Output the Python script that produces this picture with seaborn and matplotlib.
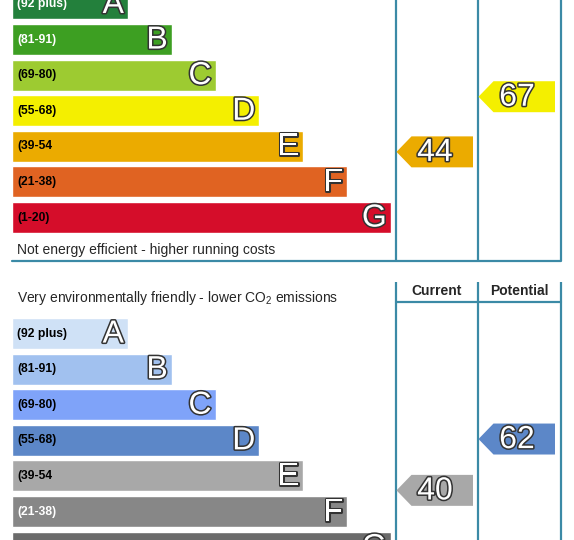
import numpy as np
import pandas as pd
import matplotlib
matplotlib.use("Agg")
import matplotlib.pyplot as plt
import matplotlib.patheffects as pe
from matplotlib.patches import Polygon
import seaborn as sns

# rating bands
letters = ["A", "B", "C", "D", "E", "F", "G"]
ranges = ["(92 plus)", "(81-91)", "(69-80)", "(55-68)", "(39-54", "(21-38)", "(1-20)"]
band_edges = [0.5, 20.5, 38.5, 54.5, 68.5, 80.5, 91.5, 100.5]

# energy efficiency chart
energy_colors = ["#23803c", "#3d9f22", "#9dcb31", "#f4ef00", "#ebab00", "#e06322", "#d50d2a"]
energy_label_colors = ["white", "white", "black", "black", "black", "black", "black"]
energy_current = 44
energy_potential = 67

# environmental impact chart
co2_colors = ["#cfe1f6", "#a1c1ef", "#7fa3f9", "#5c87c8", "#a8a8a8", "#878787", "#6b6b6b"]
co2_label_colors = ["black", "black", "black", "black", "black", "white", "white"]
co2_current = 40
co2_potential = 62

sns.set_style("white")
plt.rcParams["font.family"] = ["Liberation Sans", "DejaVu Sans"]
plt.rcParams["mathtext.fontset"] = "custom"
plt.rcParams["mathtext.rm"] = "Liberation Sans"

line_col = "#3b8aa6"
pitch = 35.6          # px per band
col_x = [384, 466, 549]   # column lines (x = px - 12)
bar_len = [116 + 43.8 * i for i in range(7)]
outline = [pe.withStroke(linewidth=2.2, foreground="#333333")]


def score_to_band(score):
    return np.interp(score, band_edges, np.arange(6.5, -1.5, -1.0))


def arrow(ax, col, score, color):
    y = score_to_band(score)
    x0, x1 = col_x[col] + 0.5, col_x[col] + 77
    h = 0.435
    ax.add_patch(Polygon([(x0, y), (x0 + 15, y - h), (x1, y - h), (x1, y + h), (x0 + 15, y + h)],
                         closed=True, facecolor=color, edgecolor="none", zorder=3))
    ax.text(x0 + 38.5, y + 0.03, str(score), fontsize=23, color="white", ha="center", va="center",
            path_effects=outline, zorder=4)


def rating_chart(ax, colors, label_colors, current, potential, ylim):
    df = pd.DataFrame({"band": letters, "length": bar_len})
    sns.barplot(data=df, x="length", y="band", hue="band", palette=colors, orient="h",
                width=0.87, saturation=1, legend=False, ax=ax)
    for i, (ltr, rng) in enumerate(zip(letters, ranges)):
        ax.text(5, i, rng, fontsize=8.7, fontweight="bold", color=label_colors[i], va="center", ha="left")
        ax.text(bar_len[i] - 4, i + 0.03, ltr, fontsize=23, color="white", va="center", ha="right",
                path_effects=outline, zorder=4)
    arrow(ax, 0, current, colors[int(round(score_to_band(current)))])
    arrow(ax, 1, potential, colors[int(round(score_to_band(potential)))])
    ax.set_xlim(-12, 562)
    ax.set_ylim(*ylim)
    ax.axis("off")


fig = plt.figure(figsize=(5.74, 5.40), dpi=100)

# top: energy efficiency
ax1 = fig.add_axes([0, 0.5, 1, 0.5])
top_lim = ((270 - 3.9) / pitch, -3.9 / pitch)
rating_chart(ax1, energy_colors, energy_label_colors, energy_current, energy_potential, top_lim)
y_base = (261 - 3.9) / pitch
for x in col_x:
    ax1.plot([x, x], [top_lim[1], y_base], color=line_col, lw=1.6, solid_capstyle="butt")
ax1.plot([0, col_x[2]], [y_base, y_base], color=line_col, lw=1.6)
ax1.text(5, (250 - 3.9) / pitch, "Not energy efficient - higher running costs", fontsize=10,
         va="center", ha="left")

# bottom: environmental impact
ax2 = fig.add_axes([0, 0, 1, 0.5])
bot_lim = ((540 - 333.5) / pitch, (270 - 333.5) / pitch)
rating_chart(ax2, co2_colors, co2_label_colors, co2_current, co2_potential, bot_lim)
y_head = (282 - 333.5) / pitch
y_head_line = (302 - 333.5) / pitch
for x in col_x:
    ax2.plot([x, x], [y_head, bot_lim[0]], color=line_col, lw=1.6, solid_capstyle="butt")
ax2.plot([col_x[0], col_x[2]], [y_head_line, y_head_line], color=line_col, lw=1.6)
ax2.text((col_x[0] + col_x[1]) / 2, (291 - 333.5) / pitch, "Current", fontsize=10,
         fontweight="bold", ha="center", va="center")
ax2.text((col_x[1] + col_x[2]) / 2, (291 - 333.5) / pitch, "Potential", fontsize=10,
         fontweight="bold", ha="center", va="center")
ax2.text(5, (298 - 333.5) / pitch, "Very environmentally friendly - lower CO$\\mathregular{_2}$ emissions",
         fontsize=10, va="center", ha="left")

fig.savefig("out.png", dpi=100)
